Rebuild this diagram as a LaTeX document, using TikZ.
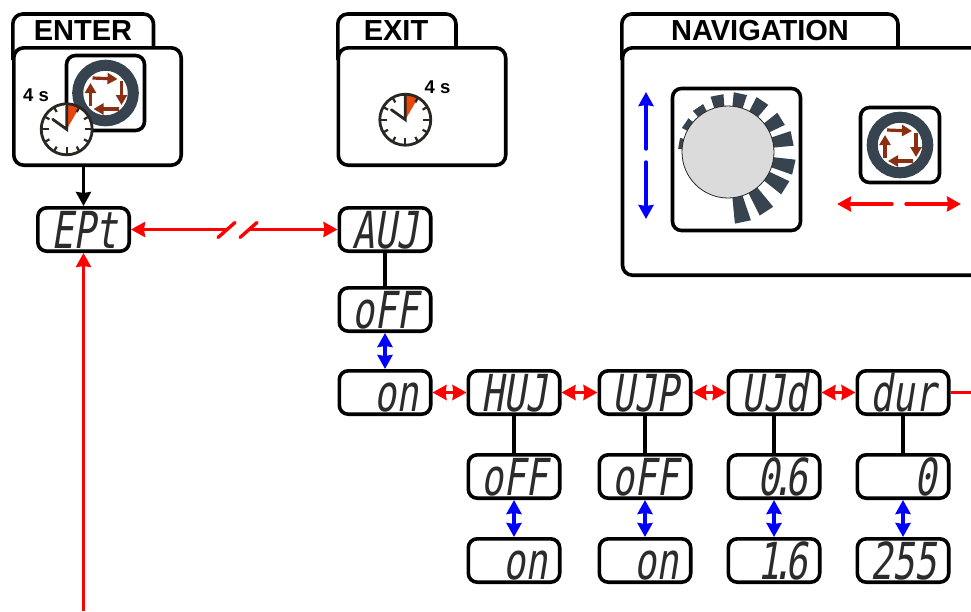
\documentclass[tikz,border=0pt]{standalone}
\usepackage{fontspec}
\setmainfont{Liberation Sans}
\newfontfamily\dispfont[FakeSlant=0.16,FakeStretch=0.72]{DejaVu Sans Mono}
\usepackage{tikz}
\usetikzlibrary{arrows.meta,calc,positioning}
\definecolor{ringc}{HTML}{37444F}
\definecolor{keyc}{HTML}{8A2F12}
\definecolor{handc}{HTML}{2A2723}
\definecolor{wedgec}{HTML}{E8450A}
\definecolor{segc}{HTML}{2B2B2B}
\newcommand{\segdot}{\kern-8pt.\kern-8pt}
\tikzset{
  >={Stealth[length=14pt,width=15pt,inset=1pt]},
  clock/.pic={
    \fill[white] (0,0) circle (25.5);
    \fill[wedgec] (0,0) -- (90:25pt) arc[start angle=90,end angle=60,radius=25pt] -- cycle;
    \foreach \a in {0,90,180,270} \draw[handc,line width=2.2pt] (\a:18pt) -- (\a:25pt);
    \foreach \a in {30,60,120,150,210,240,300,330} \draw[handc,line width=2.2pt] (\a:20pt) -- (\a:25pt);
    \draw[handc,line width=2.8pt] (0,0) circle (25.5);
    \draw[handc,line width=2.8pt,line cap=round] (-14,-10) -- (0,0) -- (0,-23);
  },
  turnkey/.pic={
    \draw[ringc,line width=11pt,fill=white] (0,0) circle (27.8);
    \draw[keyarrow] (-13,-15) -- (12,-14);
    \draw[keyarrow] (16,-12) -- (16,12);
    \draw[keyarrow] (13,16) -- (-12,16);
    \draw[keyarrow] (-15,13) -- (-15,-10);
  },
  keyarrow/.style={draw=keyc,line width=3.2pt,-{Stealth[length=10pt,width=11pt,inset=0pt]}}
}

\begin{document}
\begin{tikzpicture}[
    x=1pt,y=-1pt,
    disp/.style={rectangle,draw,line width=3.6pt,rounded corners=9pt,minimum width=91.4pt,minimum height=43.4pt,
      inner sep=0pt,text width=68pt,align=right,text height=37pt,text depth=0pt,text=segc,
      font=\dispfont\fontsize{51}{51}\selectfont},
    panel/.style={rectangle,draw,fill=white,line width=3.6pt,rounded corners=10pt},
    keybox/.style={rectangle,draw,fill=white,line width=3.6pt,rounded corners=9pt},
    tabline/.style={line width=3.6pt,rounded corners=10pt},
    head/.style={font=\bfseries\fontsize{29}{29}\selectfont},
    secs/.style={font=\bfseries\fontsize{18.5}{18.5}\selectfont},
    redline/.style={red,line width=3.4pt},
    blueline/.style={blue,line width=3.4pt,line cap=round},
    link/.style={line width=3.6pt},
    node distance=34pt
  ]
  \path[use as bounding box,clip] (0,0) rectangle (971,611);

  % tabs and panels
  \draw[tabline] (12.8,60) |- (153.5,14) -- (153.5,50);
  \draw[tabline] (337.8,60) |- (456,14) -- (456,50);
  \draw[tabline] (621.8,60) |- (898,14) -- (898,50);
  \node (ENTER) at (97.5,106.5) [panel,minimum width=167.4pt,minimum height=117.4pt] {};
  \node (EXIT) at (422,106.5) [panel,minimum width=167.4pt,minimum height=117.4pt] {};
  \node (NAV) at (806,161.5) [panel,minimum width=367pt,minimum height=227.4pt] {};
  \node (ENTERT) at (83,31) [head] {ENTER};
  \node (EXITT) at (396,31) [head] {EXIT};
  \node (NAVT) at (760,31) [head] {NAVIGATION};

  % enter panel
  \node (ENTERK) at (105.5,93) [keybox,minimum width=78pt,minimum height=75pt] {};
  \pic at (ENTERK) {turnkey};
  \node (ENTERS) at (36,95.5) [secs] {4 s};
  \pic at (66.7,129.3) {clock};

  % exit panel
  \node (EXITS) at (437.5,87) [secs] {4 s};
  \pic at (405.3,119.7) {clock};

  % navigation panel
  \node (KNOBK) at (736.5,159.5) [keybox,minimum width=128pt,minimum height=142pt] {};
  \begin{scope}[shift={(728,152)}]
    \foreach \a/\r in {170/50,146/52,124/54,101/58,78/60,56/62,32/63,12/66,-13/68,-32/68,-57/71,-78/72}
      \fill[ringc] (\a-6.5:42pt) -- (\a-6.5:\r pt) -- (\a+6.5:\r pt) -- (\a+6.5:42pt) -- cycle;
  \end{scope}
  \node (KNOB) at (728,152) [circle,draw=handc,line width=0.8pt,fill=black!14,minimum size=92pt] {};
  \node (NAVK) at (900,145) [keybox,minimum width=79pt,minimum height=75pt] {};
  \pic at (NAVK) {turnkey};
  \coordinate (UPA) at (646,149);
  \coordinate (UPB) at (646,92);
  \coordinate (DNA) at (646,162);
  \coordinate (DNB) at (646,219);
  \coordinate (LFA) at (892,204);
  \coordinate (LFB) at (837,204);
  \coordinate (RTA) at (906,204);
  \coordinate (RTB) at (961,204);
  \draw[blueline,->] (UPA) -- (UPB);
  \draw[blueline,->] (DNA) -- (DNB);
  \draw[redline,line cap=round,->] (LFA) -- (LFB);
  \draw[redline,line cap=round,->] (RTA) -- (RTB);

  % displays
  \node (EPT) at (83.5,229.5) [disp] {EPt};
  \node (AUJ) at (385,229.5) [disp] {AUJ};
  \node (AOFF) [disp,below=33pt of AUJ] {oFF};
  \node (AON) [disp,below=36pt of AOFF] {on};
  \node (HUJ) [disp,right=34pt of AON] {HUJ};
  \node (UJP) [disp,right=36pt of HUJ] {UJP};
  \node (UJD) [disp,right=of UJP] {UJd};
  \node (DUR) [disp,right=of UJD] {dur};
  \node (HOFF) [disp,below=37pt of HUJ] {oFF};
  \node (POFF) [disp,below=37pt of UJP] {oFF};
  \node (DOFF) [disp,below=37pt of UJD] {0\segdot 6};
  \node (ROFF) [disp,below=37pt of DUR] {0};
  \node (HON) [disp,below=37pt of HOFF] {on};
  \node (PON) [disp,below=37pt of POFF] {on};
  \node (DON) [disp,below=37pt of DOFF] {1\segdot 6};
  \node (RON) [disp,below=37pt of ROFF] {255};

  % connectors
  \draw[link,->] (EPT |- ENTER.south) -- (EPT);
  \coordinate (GAPL) at (227,229.5);
  \coordinate (GAPR) at (248,229.5);
  \coordinate (FOOT) at (83.5,611);
  \coordinate (EDGE) at (971,392.5);
  \draw[redline,->] (GAPL) -- (EPT);
  \draw[redline,->] (GAPR) -- (AUJ);
  \draw[redline,line cap=round] (GAPL) ++(-9,8) -- ++(17,-15);
  \draw[redline,line cap=round] (GAPR) ++(-8,8) -- ++(17,-15);
  \draw[redline,->] (FOOT) -- (EPT);
  \draw[redline,<->] (AON) -- (HUJ);
  \draw[redline,<->] (HUJ) -- (UJP);
  \draw[redline,<->] (UJP) -- (UJD);
  \draw[redline,<->] (UJD) -- (DUR);
  \draw[redline] (DUR) -- (EDGE);
  \draw[link] (AUJ) -- (AOFF);
  \draw[link] (HUJ) -- (HOFF);
  \draw[link] (UJP) -- (POFF);
  \draw[link] (UJD) -- (DOFF);
  \draw[link] (DUR) -- (ROFF);
  \draw[blue,line width=3.4pt,<->] (AOFF) -- (AON);
  \draw[blue,line width=3.4pt,<->] (HOFF) -- (HON);
  \draw[blue,line width=3.4pt,<->] (POFF) -- (PON);
  \draw[blue,line width=3.4pt,<->] (DOFF) -- (DON);
  \draw[blue,line width=3.4pt,<->] (ROFF) -- (RON);
\end{tikzpicture}
\end{document}
